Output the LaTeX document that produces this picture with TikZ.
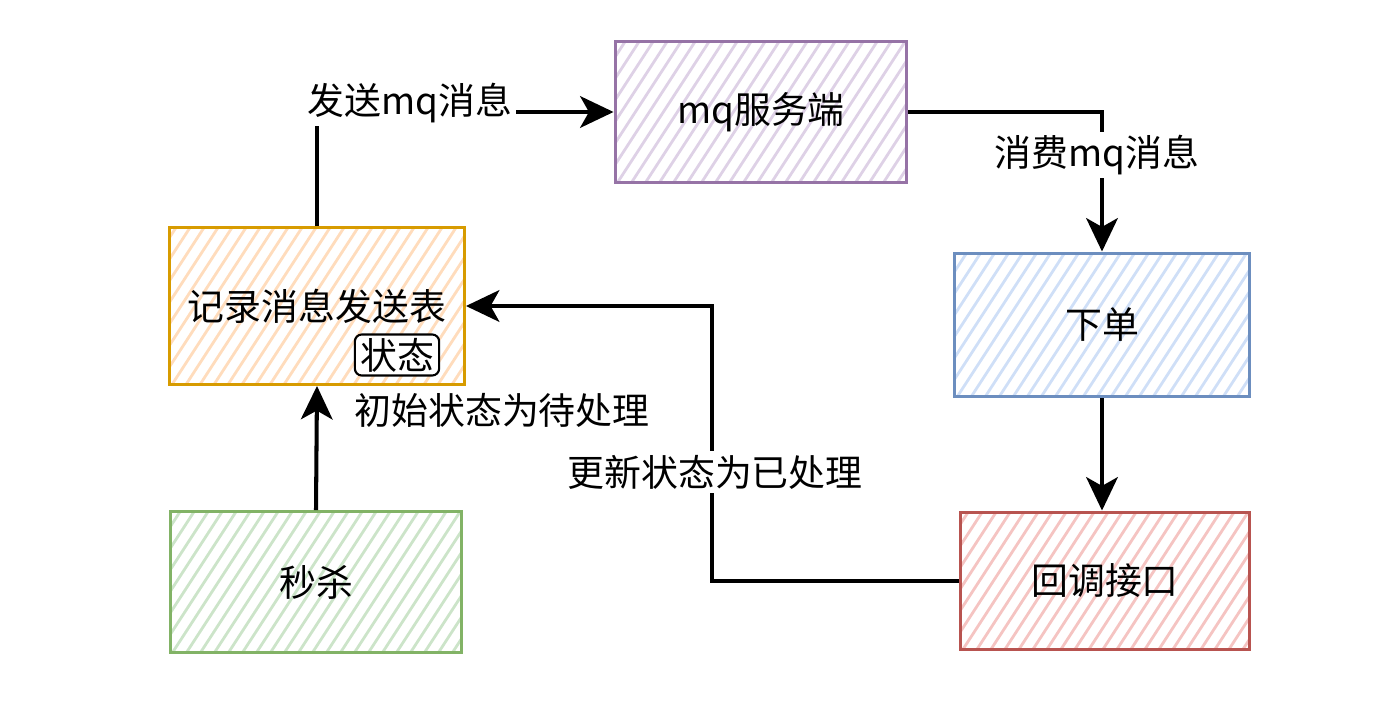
\documentclass[tikz,border=0pt]{standalone}
\usepackage{fontspec}
\setmainfont{Noto Sans CJK SC}
\usetikzlibrary{positioning, arrows.meta, calc}

\definecolor{orangeline}{HTML}{D79B00}
\definecolor{orangefill}{HTML}{FFDCBC}
\definecolor{purpleline}{HTML}{9673A6}
\definecolor{purplefill}{HTML}{DED1E6}
\definecolor{blueline}{HTML}{6C8EBF}
\definecolor{bluefill}{HTML}{CFDFF7}
\definecolor{redline}{HTML}{B85450}
\definecolor{redfill}{HTML}{F5C4C2}
\definecolor{greenline}{HTML}{82B366}
\definecolor{greenfill}{HTML}{CCE4C9}

\begin{document}
\begin{tikzpicture}[x=0.02cm, y=-0.02cm,
    box/.style={draw=#1line, line width=1.7pt, inner sep=0pt,
        font=\fontsize{21}{25}\selectfont,
        path picture={
            \foreach \k in {0,...,40}
                \draw[#1fill, line width=1.6pt]
                    ($(path picture bounding box.south west)+(\k*14-200,10)$) -- ++(130,-200);
        }},
    flow/.style={line width=2.3pt, -{Stealth[length=19pt, width=18pt, inset=5pt]}},
    lbl/.style={font=\fontsize{21}{25}\selectfont, fill=white, inner sep=2pt},
    tag/.style={draw, line width=1.2pt, rounded corners=4pt, inner xsep=3pt, inner ysep=2pt,
        font=\fontsize{21}{25}\selectfont}]
    \useasboundingbox (0,0) rectangle (1396,716);

    % boxes
    \node[box=orange, minimum width=5.9cm, minimum height=3.14cm] (table) at (317,306) {记录消息发送表};
    \node[tag, fill=white] (state) at (397,355) {状态};
    \node[box=purple, minimum width=5.84cm, minimum height=2.82cm] (mq) at (761,112) {mq服务端};
    \node[box=blue, minimum width=5.9cm, minimum height=2.88cm] (order) at (1102,325) {下单};
    \node[box=red, minimum width=5.8cm, minimum height=2.76cm] (callback) at (1105,581) {回调接口};
    \node[box=green, minimum width=5.84cm, minimum height=2.82cm] (seckill) at (316,582) {秒杀};

    % connectors
    \coordinate (turn) at (712,450);
    \draw[flow] (table.north) |- (mq.west);
    \draw[flow] (mq.east) -| (order.north);
    \draw[flow] (order.south) -- (order.south |- callback.north);
    \draw[flow] (callback.west) -| (turn) |- (table.east);
    \draw[flow] (seckill.north) -- (table.south);

    % labels
    \node[lbl] (sendlbl) at (410,103) {发送mq消息};
    \node[lbl] (consumelbl) at (1097,155) {消费mq消息};
    \node[font=\fontsize{21}{25}\selectfont] (initlbl) at (502,410) {初始状态为待处理};
    \node[lbl] (donelbl) at (715,472) {更新状态为已处理};
\end{tikzpicture}
\end{document}
